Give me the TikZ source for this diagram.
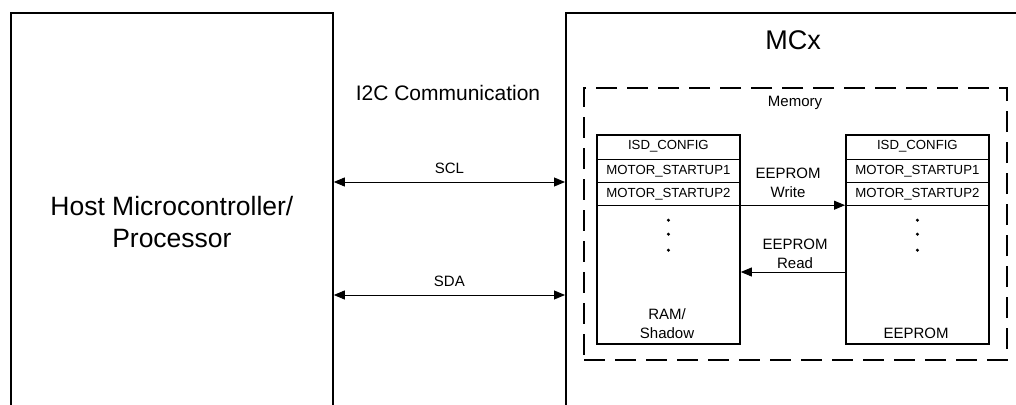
\documentclass[tikz,border=0pt]{standalone}
\usepackage{fontspec}
\setmainfont{Liberation Sans}
\usetikzlibrary{arrows.meta,positioning,calc}

\begin{document}
\begin{tikzpicture}[x=1pt,y=-1pt,
  unitbox/.style={draw, line width=1.8pt, inner sep=0pt, anchor=north west},
  membox/.style={draw, line width=2.2pt, dash pattern=on 21pt off 10pt, inner sep=0pt, anchor=north west},
  regblock/.style={draw, line width=1.8pt, inner sep=0pt, anchor=north west, minimum width=143pt, minimum height=209pt},
  regrow/.style={inner sep=0pt, minimum width=143pt, font=\fontsize{13.2}{15}\selectfont},
  bus/.style={line width=0.9pt, {Triangle[length=11pt,width=9pt]}-{Triangle[length=11pt,width=9pt]}},
  xfer/.style={line width=0.9pt, -{Triangle[length=11pt,width=9pt]}},
  lbl/.style={font=\fontsize{15}{19}\selectfont, align=center}]
\useasboundingbox (0,0) rectangle (1016,404);
\clip (0,0) rectangle (1016,404);
% Host and device
\node[unitbox, minimum width=322pt, minimum height=418pt,
  font=\fontsize{26.5}{32}\selectfont, align=center] (host) at (10,12) {Host Microcontroller/\\Processor};
\node[unitbox, minimum width=470pt, minimum height=418pt] (mcx) at (565,12) {};
\node[font=\fontsize{27}{30}\selectfont] (mcxlbl) at (793,40) {MCx};
% I2C lines
\node[font=\fontsize{21}{25}\selectfont] (i2c) at (448,93) {I2C Communication};
\coordinate (sclY) at (0,182);
\coordinate (sdaY) at (0,295);
\draw[bus] (host.east |- sclY) -- node[lbl, above=5pt] (scl) {SCL} (mcx.west |- sclY);
\draw[bus] (host.east |- sdaY) -- node[lbl, above=5pt] (sda) {SDA} (mcx.west |- sdaY);
% Memory
\node[membox, minimum width=423pt, minimum height=272pt] (mem) at (583,87) {};
\node[lbl] (memlbl) at (795,103) {Memory};
% Register blocks
\foreach \blk/\bx in {ram/596, eep/845} {
  \node[regblock] (\blk) at (\bx,134) {};
  \node[regrow, minimum height=24.7pt, anchor=north] (\blk1) at (\blk.north) {ISD\_CONFIG};
  \node[regrow, minimum height=23pt, below=0pt of \blk1] (\blk2) {MOTOR\_STARTUP1};
  \node[regrow, minimum height=22.3pt, below=0pt of \blk2] (\blk3) {MOTOR\_STARTUP2};
  \foreach \r in {1,2,3}
    \draw[line width=0.8pt] (\blk\r.south west) -- (\blk\r.south east);
  \foreach \d in {15,29,45}
    \fill ($(\blk3.south)+(0,\d)$) circle (1.7);
}
\node[lbl] (ramlbl) at (667,324) {RAM/\\Shadow};
\node[lbl] (eeplbl) at (916,333) {EEPROM};
% Transfers
\coordinate (readY) at (0,272);
\draw[xfer] (ram.east |- ram3.south) -- (eep.west |- ram3.south);
\draw[xfer] (eep.west |- readY) -- (ram.east |- readY);
\node[lbl] (wrlbl) at (788,183) {EEPROM\\Write};
\node[lbl] (rdlbl) at (795,254) {EEPROM\\Read};
\end{tikzpicture}
\end{document}
